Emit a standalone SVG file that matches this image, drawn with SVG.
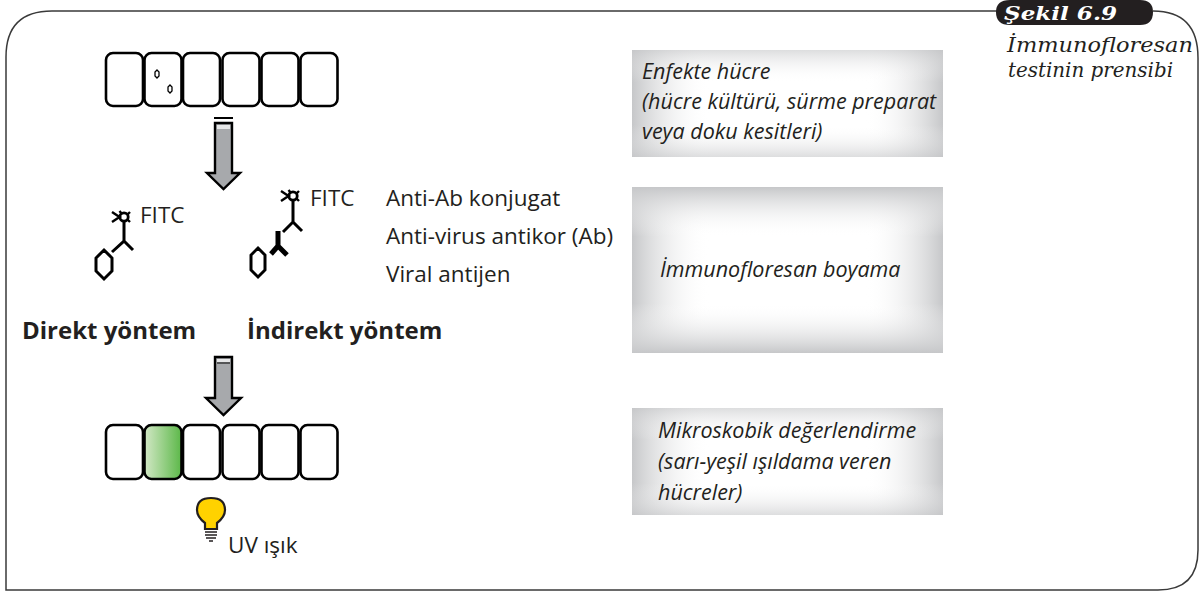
<svg xmlns="http://www.w3.org/2000/svg" width="1203" height="592" viewBox="0 0 1203 592">
  <style>
    .cell { fill: #ffffff; stroke: #000000; stroke-width: 2.6; }
    .lbl { font-family: "Open Sans", "Noto Sans", "Liberation Sans", sans-serif; font-size: 22.5px; fill: #231f20; }
    .bold { font-weight: bold; font-size: 24px; }
    .step { font-family: "Open Sans", "Noto Sans", "Liberation Sans", sans-serif; font-style: italic; font-size: 21.5px; fill: #231f20; }
    .ab { fill: none; stroke: #000000; stroke-width: 3; stroke-linejoin: miter; }
    .abThick { fill: none; stroke: #000000; stroke-width: 5; }
    .arrow { fill: #a7a9ac; stroke: #000000; stroke-width: 2.4; stroke-linejoin: miter; }
  </style>
  <defs>
    <linearGradient id="glow" x1="0" y1="0" x2="1" y2="0">
      <stop offset="0" stop-color="#d3e8c6"/>
      <stop offset="1" stop-color="#5cb849"/>
    </linearGradient>
    <linearGradient id="shadeH" x1="0" y1="0" x2="1" y2="0">
      <stop offset="0" stop-color="#c6c7c9"/>
      <stop offset="0.25" stop-color="#ffffff" stop-opacity="0"/>
      <stop offset="0.75" stop-color="#ffffff" stop-opacity="0"/>
      <stop offset="1" stop-color="#c6c7c9"/>
    </linearGradient>
    <linearGradient id="shadeV" x1="0" y1="0" x2="0" y2="1">
      <stop offset="0" stop-color="#c6c7c9"/>
      <stop offset="0.3" stop-color="#ffffff" stop-opacity="0"/>
      <stop offset="0.7" stop-color="#ffffff" stop-opacity="0"/>
      <stop offset="1" stop-color="#c6c7c9"/>
    </linearGradient>
    <!-- fluorescein label: ring with spikes, centred on its own origin -->
    <g id="fitc">
      <circle cx="2" cy="0" r="4.2" fill="none" stroke="#000" stroke-width="2.8"/>
      <path d="M-10,-5 L-1,1 M-10,5 L-1,-1 M-2.5,-6 L0,-3 M8,-5 L5.5,-2.5 M8,5 L5.5,2.5" stroke="#000" stroke-width="2.4" fill="none"/>
    </g>
  </defs>

  <!-- page frame -->
  <path d="M997,11 L52,11 Q6,11 6,57 L6,590 L1158,590 Q1198,590 1198,550 L1198,58 Q1198,11 1153,11" fill="none" stroke="#3a3a3a" stroke-width="1.5"/>

  <!-- figure tag -->
  <g id="tag">
    <path d="M1010,0 L1140,0 Q1153,0 1153,12 Q1153,25 1140,25 L1010,25 Q996,25 996,12 Q996,0 1010,0 Z" fill="#231f20"/>
    <text x="1004" y="20" font-family="'DejaVu Serif', serif" font-style="italic" font-weight="bold" font-size="19" fill="#ffffff" textLength="113" lengthAdjust="spacingAndGlyphs">Şekil 6.9</text>
  </g>
  <g id="caption">
    <text font-family="'DejaVu Serif', serif" font-style="italic" font-size="20" fill="#231f20">
      <tspan x="1007" y="52" textLength="186" lengthAdjust="spacingAndGlyphs">İmmunofloresan</tspan>
      <tspan x="1008" y="77" textLength="165" lengthAdjust="spacingAndGlyphs">testinin prensibi</tspan>
    </text>
  </g>

  <!-- infected cell row -->
  <g id="cells-infected">
    <rect class="cell" x="106" y="53" width="37" height="53" rx="7"/>
    <rect class="cell" x="144.5" y="53" width="37" height="53" rx="7"/>
    <rect class="cell" x="183" y="53" width="37" height="53" rx="7"/>
    <rect class="cell" x="222.5" y="53" width="37" height="53" rx="7"/>
    <rect class="cell" x="261.5" y="53" width="37" height="53" rx="7"/>
    <rect class="cell" x="300.5" y="53" width="37" height="53" rx="7"/>
    <path d="M157,70 L159,72 L159,76 L157,78 L155,76 L155,72 Z" fill="none" stroke="#000" stroke-width="1.3"/>
    <path d="M170,85 L172,87 L172,91 L170,93 L168,91 L168,87 Z" fill="none" stroke="#000" stroke-width="1.3"/>
  </g>

  <!-- connectors: process arrows -->
  <g id="connectors">
    <line x1="214" y1="118" x2="233" y2="118" stroke="#000" stroke-width="2"/>
    <path class="arrow" d="M215,123 L232,123 L232,173 L240,173 L223.5,189 L207,173 L215,173 Z"/>
    <rect x="217" y="125" width="13" height="4" fill="#e6e7e8"/>
    <path class="arrow" d="M215,357 L232,357 L232,398 L241,398 L223.5,415 L206,398 L215,398 Z"/>
    <rect x="217" y="359" width="13" height="3" fill="#e6e7e8"/>
    <line x1="217" y1="363" x2="230" y2="363" stroke="#000" stroke-width="1"/>
  </g>

  <!-- direct method: labelled antibody on antigen -->
  <g id="direct">
    <use href="#fitc" x="122" y="217"/>
    <path class="ab" d="M124,221 L124,241 L112,252 M124,241 L133,250"/>
    <path class="ab" d="M104,250 L112,258 L112,271 L104,279 L96,271 L96,258 Z"/>
    <text class="lbl" x="140" y="223">FITC</text>
  </g>

  <!-- indirect method: labelled anti-antibody on antibody on antigen -->
  <g id="indirect">
    <use href="#fitc" x="291" y="196"/>
    <path class="ab" d="M293,200 L293,222 L283,232 M293,222 L302,231"/>
    <path class="abThick" d="M278,231 L278,246 M278,246 L271,254 M278,246 L287,255"/>
    <path class="ab" d="M258,248 L265,255 L265,270 L258,277 L251,270 L251,255 Z"/>
    <text class="lbl" x="310" y="206">FITC</text>
  </g>

  <g id="legend">
    <text class="lbl" x="386" y="206">Anti-Ab konjugat</text>
    <text class="lbl" x="386" y="244">Anti-virus antikor (Ab)</text>
    <text class="lbl" x="386" y="282">Viral antijen</text>
  </g>

  <g id="method-labels">
    <text class="lbl bold" x="22" y="339">Direkt yöntem</text>
    <text class="lbl bold" x="247" y="339">İndirekt yöntem</text>
  </g>

  <!-- stained cell row -->
  <g id="cells-stained">
    <rect class="cell" x="106" y="425" width="37" height="54" rx="7"/>
    <rect class="cell" x="144.5" y="425" width="37" height="54" rx="7" style="fill:url(#glow)"/>
    <rect class="cell" x="183" y="425" width="37" height="54" rx="7"/>
    <rect class="cell" x="222.5" y="425" width="37" height="54" rx="7"/>
    <rect class="cell" x="261.5" y="425" width="37" height="54" rx="7"/>
    <rect class="cell" x="300.5" y="425" width="37" height="54" rx="7"/>
  </g>

  <!-- UV lamp -->
  <g id="uv-lamp">
    <path d="M205,529 L205,523 Q197,517 197,510 Q197,498 211,498 Q225,498 225,510 Q225,517 217,523 L217,529 Z" fill="#ffd200" stroke="#231f20" stroke-width="2.2"/>
    <path d="M205,532 L217,532 M205,535 L217,535 M206,538 L216,538 M209,541 L213,541" stroke="#231f20" stroke-width="1.6"/>
    <text class="lbl" x="228" y="553" font-size="23.5">UV ışık</text>
  </g>

  <!-- process steps -->
  <g id="step-infected">
    <rect x="632" y="50" width="311" height="107" fill="#ffffff"/>
    <rect x="632" y="50" width="311" height="107" fill="url(#shadeH)"/>
    <rect x="632" y="50" width="311" height="107" fill="url(#shadeV)" opacity="0.6"/>
    <text class="step">
      <tspan x="642" y="79">Enfekte hücre</tspan>
      <tspan x="642" y="109">(hücre kültürü, sürme preparat</tspan>
      <tspan x="642" y="139">veya doku kesitleri)</tspan>
    </text>
  </g>

  <g id="step-staining">
    <rect x="632" y="187" width="311" height="166" fill="#ffffff"/>
    <rect x="632" y="187" width="311" height="166" fill="url(#shadeH)"/>
    <rect x="632" y="187" width="311" height="166" fill="url(#shadeV)"/>
    <text class="step" x="660" y="277">İmmunofloresan boyama</text>
  </g>

  <g id="step-microscopy">
    <rect x="632" y="408" width="311" height="107" fill="#ffffff"/>
    <rect x="632" y="408" width="311" height="107" fill="url(#shadeH)"/>
    <rect x="632" y="408" width="311" height="107" fill="url(#shadeV)" opacity="0.6"/>
    <text class="step">
      <tspan x="658" y="438">Mikroskobik değerlendirme</tspan>
      <tspan x="658" y="469">(sarı-yeşil ışıldama veren</tspan>
      <tspan x="658" y="500">hücreler)</tspan>
    </text>
  </g>
</svg>
